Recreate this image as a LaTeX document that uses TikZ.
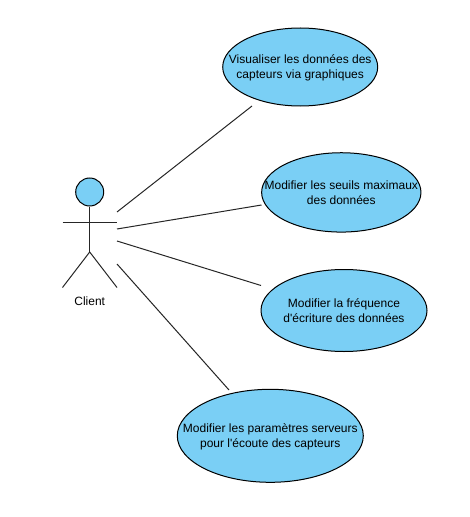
\documentclass[tikz,border=0pt]{standalone}
\usepackage{fontspec}
\setmainfont{Liberation Sans}
\usetikzlibrary{shapes.geometric}
\definecolor{casefill}{HTML}{7ACFF5}
\tikzset{
	usecase/.style={ellipse,draw=black,fill=casefill,inner xsep=-30pt,inner ysep=-10pt,align=center},
	link/.style={draw=black!85}
}
\begin{document}
\begin{tikzpicture}[x=0.75pt,y=-0.75pt,line width=0.75pt,font=\fontsize{9}{11.25}\selectfont]
	\useasboundingbox (0,0) rectangle (470,517);
	% actor
	\node (head) at (89.7,192) [circle,draw=black,fill=casefill,inner sep=0pt,minimum size=21pt] {};
	\coordinate (hip) at (89.7,252);
	\coordinate (handl) at (62.5,222);
	\coordinate (handr) at (117,222);
	\coordinate (footl) at (62.5,287.5);
	\coordinate (footr) at (117,287.5);
	\node (client) at (89.7,301.5) {Client};
	\draw [link] (head) -- (hip);
	\draw [link] (handl) -- (handr);
	\draw [link] (footl) -- (hip) -- (footr);
	% cases
	\node (visu) at (300.2,67) [usecase,minimum width=116.25pt,minimum height=58.5pt] {Visualiser les données des\\\smash{capteurs via graphiques}};
	\node (seuils) at (341.3,192.4) [usecase,minimum width=119.5pt,minimum height=59.5pt] {Modifier les seuils maximaux\\des données};
	\node (freq) at (344,310.5) [usecase,minimum width=124.5pt,minimum height=61.5pt] {Modifier la fréquence\\d\textquotesingle écriture des données};
	\node (param) at (270.3,435.8) [usecase,minimum width=139.5pt,minimum height=69.75pt] {Modifier les paramètres serveurs\\\smash{pour l\textquotesingle écoute des capteurs}};
	% links
	\coordinate (a1) at (117,212);
	\coordinate (a2) at (117,229);
	\coordinate (a3) at (117,241);
	\coordinate (a4) at (117,264);
	\coordinate (b1) at (252,106);
	\coordinate (b2) at (261.5,205);
	\coordinate (b3) at (261,285.5);
	\coordinate (b4) at (229,390);
	\draw [link] (a1) -- (b1);
	\draw [link] (a2) -- (b2);
	\draw [link] (a3) -- (b3);
	\draw [link] (a4) -- (b4);
\end{tikzpicture}
\end{document}
